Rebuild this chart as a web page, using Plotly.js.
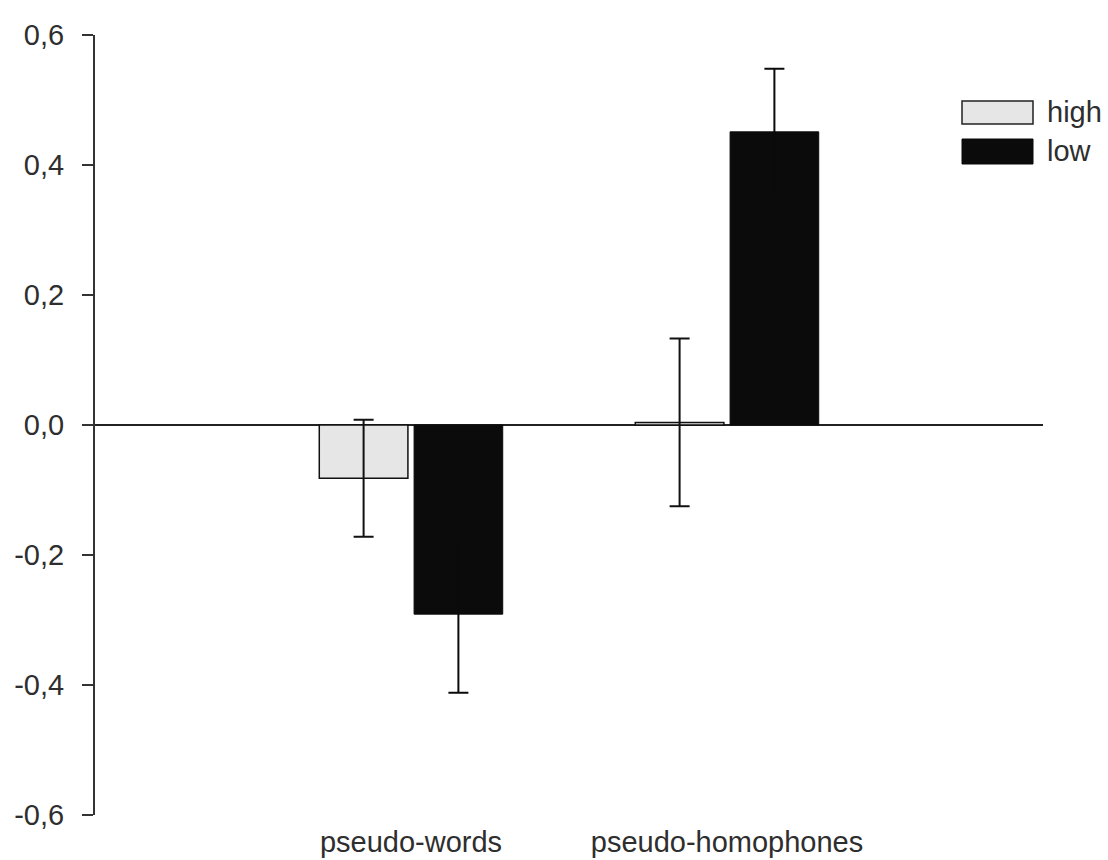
<!DOCTYPE html>
<html>
<head>
<meta charset="utf-8">
<script src="https://cdn.plot.ly/plotly-3.0.1.min.js"></script>
<style>html,body{margin:0;padding:0;background:#fff;}#chart{width:1108px;height:860px;}</style>
</head>
<body>
<div id="chart"></div>
<script>
// Data
const categories = ["pseudo-words", "pseudo-homophones"];
const categoryPositions = [1, 2];
const seriesNames = ["high", "low"];
const highValues = [-0.082, 0.004];
const highErrors = [0.090, 0.129];
const lowValues = [-0.291, 0.451];
const lowErrors = [0.121, 0.097];
const yTickValues = [-0.6, -0.4, -0.2, 0.0, 0.2, 0.4, 0.6];
const yTickLabels = ["-0,6", "-0,4", "-0,2", "0,0", "0,2", "0,4", "0,6"];

const FONT = "'Liberation Sans', Arial, sans-serif";
const TEXT = "#2e2e2e";
const HIGH_FILL = "#e6e6e6";
const LOW_FILL = "#0b0b0b";

const traces = [
  {
    type: "bar", name: seriesNames[0], x: categoryPositions, y: highValues,
    marker: {color: HIGH_FILL, line: {color: "#111", width: 1.5}},
    error_y: {type: "data", array: highErrors, visible: true, color: "#111", thickness: 2, width: 10},
    showlegend: false
  },
  {
    type: "bar", name: seriesNames[1], x: categoryPositions, y: lowValues,
    marker: {color: LOW_FILL, line: {color: LOW_FILL, width: 1}},
    error_y: {type: "data", array: lowErrors, visible: true, color: LOW_FILL, thickness: 2, width: 10},
    showlegend: false
  }
];

// custom legend (paper coordinates)
function py(pix) { return (815 - pix) / 780; }
function px(pix) { return (pix - 95) / 948; }
const legendShapes = [
  {type: "rect", xref: "paper", yref: "paper", x0: px(962), x1: px(1033), y0: py(124), y1: py(101),
   fillcolor: HIGH_FILL, line: {color: "#222", width: 1.5}},
  {type: "rect", xref: "paper", yref: "paper", x0: px(962), x1: px(1033), y0: py(164), y1: py(139),
   fillcolor: LOW_FILL, line: {color: LOW_FILL, width: 1}}
];
const legendAnnotations = [
  {xref: "paper", yref: "paper", x: px(1045), y: py(112), xanchor: "left", yanchor: "middle",
   text: seriesNames[0], showarrow: false, font: {family: FONT, size: 29, color: TEXT}},
  {xref: "paper", yref: "paper", x: px(1045), y: py(151), xanchor: "left", yanchor: "middle",
   text: seriesNames[1], showarrow: false, font: {family: FONT, size: 29, color: TEXT}}
];

const layout = {
  width: 1108, height: 860,
  margin: {l: 95, r: 65, t: 35, b: 45, pad: 0},
  paper_bgcolor: "#ffffff", plot_bgcolor: "#ffffff",
  barmode: "group", bargap: 0.4, bargroupgap: 0.065,
  showlegend: false,
  font: {family: FONT, color: TEXT, size: 29},
  xaxis: {
    range: [0, 3], tickvals: categoryPositions, ticktext: categories,
    showline: false, showgrid: false, zeroline: false, ticks: "",
    ticklabelstandoff: 7,
    tickfont: {family: FONT, size: 29, color: TEXT}
  },
  yaxis: {
    range: [-0.6, 0.6], tickvals: yTickValues, ticktext: yTickLabels,
    showline: true, linecolor: "#333", linewidth: 2,
    ticks: "outside", ticklen: 11, tickwidth: 2, tickcolor: "#333",
    showgrid: false, zeroline: true, zerolinecolor: "#222", zerolinewidth: 2,
    ticklabelstandoff: 12,
    tickfont: {family: FONT, size: 29, color: TEXT}
  },
  shapes: legendShapes,
  annotations: legendAnnotations
};

Plotly.newPlot("chart", traces, layout, {displayModeBar: false, staticPlot: true});
</script>
</body>
</html>
